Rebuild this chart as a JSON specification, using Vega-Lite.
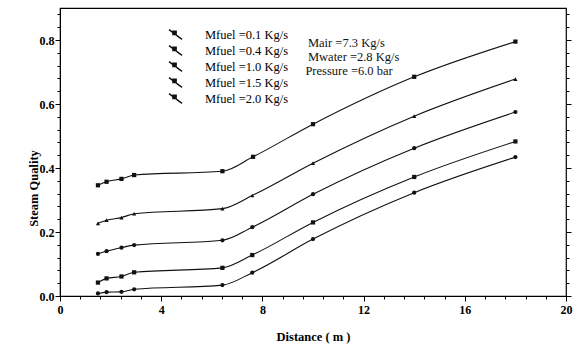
{
  "$schema": "https://vega.github.io/schema/vega-lite/v6.json",
  "width": 506,
  "height": 288,
  "autosize": "none",
  "padding": {"left": 60, "top": 8, "right": 13, "bottom": 58},
  "background": "white",
  "config": {
    "view": {"stroke": "black", "strokeWidth": 1.2},
    "font": "Liberation Serif",
    "axis": {"labelFont": "Liberation Serif", "titleFont": "Liberation Serif", "labelColor": "black", "titleColor": "black", "tickColor": "black", "domainColor": "black", "grid": false}
  },
  "datasets": {
    "curves": [
      {"series": "Mfuel =0.1 Kg/s", "distance": 1.5, "quality": 0.008},
      {"series": "Mfuel =0.1 Kg/s", "distance": 1.84, "quality": 0.012},
      {"series": "Mfuel =0.1 Kg/s", "distance": 2.43, "quality": 0.013},
      {"series": "Mfuel =0.1 Kg/s", "distance": 2.93, "quality": 0.021},
      {"series": "Mfuel =0.1 Kg/s", "distance": 6.42, "quality": 0.034},
      {"series": "Mfuel =0.1 Kg/s", "distance": 7.6, "quality": 0.073},
      {"series": "Mfuel =0.1 Kg/s", "distance": 10.0, "quality": 0.178},
      {"series": "Mfuel =0.1 Kg/s", "distance": 14.0, "quality": 0.323},
      {"series": "Mfuel =0.1 Kg/s", "distance": 18.0, "quality": 0.434},
      {"series": "Mfuel =0.4 Kg/s", "distance": 1.5, "quality": 0.042},
      {"series": "Mfuel =0.4 Kg/s", "distance": 1.84, "quality": 0.055},
      {"series": "Mfuel =0.4 Kg/s", "distance": 2.43, "quality": 0.061},
      {"series": "Mfuel =0.4 Kg/s", "distance": 2.93, "quality": 0.074},
      {"series": "Mfuel =0.4 Kg/s", "distance": 6.42, "quality": 0.088},
      {"series": "Mfuel =0.4 Kg/s", "distance": 7.6, "quality": 0.128},
      {"series": "Mfuel =0.4 Kg/s", "distance": 10.0, "quality": 0.23},
      {"series": "Mfuel =0.4 Kg/s", "distance": 14.0, "quality": 0.372},
      {"series": "Mfuel =0.4 Kg/s", "distance": 18.0, "quality": 0.483},
      {"series": "Mfuel =1.0 Kg/s", "distance": 1.5, "quality": 0.132},
      {"series": "Mfuel =1.0 Kg/s", "distance": 1.84, "quality": 0.14},
      {"series": "Mfuel =1.0 Kg/s", "distance": 2.43, "quality": 0.151},
      {"series": "Mfuel =1.0 Kg/s", "distance": 2.93, "quality": 0.159},
      {"series": "Mfuel =1.0 Kg/s", "distance": 6.42, "quality": 0.174},
      {"series": "Mfuel =1.0 Kg/s", "distance": 7.6, "quality": 0.215},
      {"series": "Mfuel =1.0 Kg/s", "distance": 10.0, "quality": 0.318},
      {"series": "Mfuel =1.0 Kg/s", "distance": 14.0, "quality": 0.462},
      {"series": "Mfuel =1.0 Kg/s", "distance": 18.0, "quality": 0.575},
      {"series": "Mfuel =1.5 Kg/s", "distance": 1.5, "quality": 0.227},
      {"series": "Mfuel =1.5 Kg/s", "distance": 1.84, "quality": 0.237},
      {"series": "Mfuel =1.5 Kg/s", "distance": 2.43, "quality": 0.245},
      {"series": "Mfuel =1.5 Kg/s", "distance": 2.93, "quality": 0.257},
      {"series": "Mfuel =1.5 Kg/s", "distance": 6.42, "quality": 0.273},
      {"series": "Mfuel =1.5 Kg/s", "distance": 7.6, "quality": 0.314},
      {"series": "Mfuel =1.5 Kg/s", "distance": 10.0, "quality": 0.415},
      {"series": "Mfuel =1.5 Kg/s", "distance": 14.0, "quality": 0.562},
      {"series": "Mfuel =1.5 Kg/s", "distance": 18.0, "quality": 0.678},
      {"series": "Mfuel =2.0 Kg/s", "distance": 1.5, "quality": 0.346},
      {"series": "Mfuel =2.0 Kg/s", "distance": 1.84, "quality": 0.357},
      {"series": "Mfuel =2.0 Kg/s", "distance": 2.43, "quality": 0.366},
      {"series": "Mfuel =2.0 Kg/s", "distance": 2.93, "quality": 0.378},
      {"series": "Mfuel =2.0 Kg/s", "distance": 6.42, "quality": 0.39},
      {"series": "Mfuel =2.0 Kg/s", "distance": 7.63, "quality": 0.435},
      {"series": "Mfuel =2.0 Kg/s", "distance": 10.0, "quality": 0.537},
      {"series": "Mfuel =2.0 Kg/s", "distance": 14.0, "quality": 0.685},
      {"series": "Mfuel =2.0 Kg/s", "distance": 18.0, "quality": 0.795}
    ],
    "notes": [
      {"label": "Mair =7.3 Kg/s", "distance": 9.8, "quality": 0.79},
      {"label": "Mwater =2.8 Kg/s", "distance": 9.8, "quality": 0.747},
      {"label": "Pressure =6.0 bar", "distance": 9.7, "quality": 0.703}
    ]
  },
  "encoding": {
    "x": {
      "field": "distance", "type": "quantitative",
      "scale": {"domain": [0, 20], "nice": false},
      "axis": {
        "orient": "bottom",
        "title": "Distance ( m )",
        "titleFontSize": 12.5, "titleFontWeight": "bold", "titlePadding": 15,
        "values": [0, 0.8, 1.6, 2.4, 3.2, 4, 4.8, 5.6, 6.4, 7.2, 8, 8.8, 9.6, 10.4, 11.2, 12, 12.8, 13.6, 14.4, 15.2, 16, 16.8, 17.6, 18.4, 19.2, 20],
        "labelExpr": "abs(datum.value/4 - round(datum.value/4)) < 0.001 ? format(datum.value, 'd') : ''",
        "labelFontSize": 12, "labelFontWeight": "bold", "labelPadding": 3,
        "tickSize": {"condition": {"test": "abs(datum.value/4 - round(datum.value/4)) < 0.001", "value": 5}, "value": 3},
        "labelFlush": false, "labelOverlap": false
      }
    }
  },
  "layer": [
    {
      "data": {"name": "curves"},
      "mark": {"type": "line", "interpolate": "monotone", "strokeWidth": 1.1},
      "encoding": {
        "y": {
          "field": "quality", "type": "quantitative",
          "scale": {"domain": [0, 0.9], "nice": false},
          "axis": {
            "orient": "left",
            "title": "Steam Quality",
            "titleFontSize": 12.5, "titleFontWeight": "bold",
            "titleX": -27, "titleY": 180, "titleAngle": -90, "titleAlign": "center", "titleBaseline": "middle",
            "values": [0, 0.04, 0.08, 0.12, 0.16, 0.2, 0.24, 0.28, 0.32, 0.36, 0.4, 0.44, 0.48, 0.52, 0.56, 0.6, 0.64, 0.68, 0.72, 0.76, 0.8, 0.84, 0.88],
            "labelExpr": "abs(datum.value*5 - round(datum.value*5)) < 0.001 ? format(datum.value, '.1f') : ''",
            "labelFontSize": 12, "labelFontWeight": "bold", "labelPadding": 1,
            "tickSize": {"condition": {"test": "abs(datum.value*5 - round(datum.value*5)) < 0.001", "value": 5}, "value": 3},
            "labelFlush": false, "labelOverlap": false
          }
        },
        "detail": {"field": "series", "type": "nominal"},
        "color": {
          "field": "series", "type": "nominal",
          "scale": {"range": ["#111111", "#111111", "#111111", "#111111", "#111111"]},
          "legend": {
            "orient": "none", "legendX": 108, "legendY": 19, "title": null, "padding": 0,
            "symbolType": "M-1,-0.75L1,0.75M-0.4,-0.5L0.1,-0.5L0.1,0L-0.4,0Z",
            "symbolSize": 170, "symbolStrokeWidth": 1.4, "symbolFillColor": "#111111", "symbolStrokeColor": "#111111",
            "labelFont": "Liberation Serif", "labelFontSize": 12.5, "labelColor": "black", "labelOffset": 22, "rowPadding": -2
          }
        }
      }
    },
    {
      "data": {"name": "curves"},
      "mark": {"type": "point", "filled": true, "size": 18, "opacity": 1},
      "encoding": {
        "y": {
          "field": "quality", "type": "quantitative",
          "scale": {"domain": [0, 0.9], "nice": false},
          "axis": {
            "orient": "right", "title": null, "domain": false,
            "values": [0, 0.04, 0.08, 0.12, 0.16, 0.2, 0.24, 0.28, 0.32, 0.36, 0.4, 0.44, 0.48, 0.52, 0.56, 0.6, 0.64, 0.68, 0.72, 0.76, 0.8, 0.84, 0.88],
            "labels": false,
            "tickSize": {"condition": {"test": "abs(datum.value*5 - round(datum.value*5)) < 0.001", "value": 5}, "value": 3}
          }
        },
        "shape": {
          "field": "series", "type": "nominal",
          "scale": {"range": ["circle", "square", "circle", "triangle-up", "square"]},
          "legend": null
        },
        "color": {"value": "#111111"}
      }
    },
    {
      "data": {"name": "notes"},
      "mark": {"type": "text", "align": "left", "baseline": "middle", "font": "Liberation Serif", "fontSize": 12.5, "color": "#111111"},
      "encoding": {
        "y": {"field": "quality", "type": "quantitative", "scale": {"domain": [0, 0.9], "nice": false}, "axis": null},
        "text": {"field": "label"}
      }
    }
  ],
  "resolve": {"axis": {"y": "independent"}}
}
